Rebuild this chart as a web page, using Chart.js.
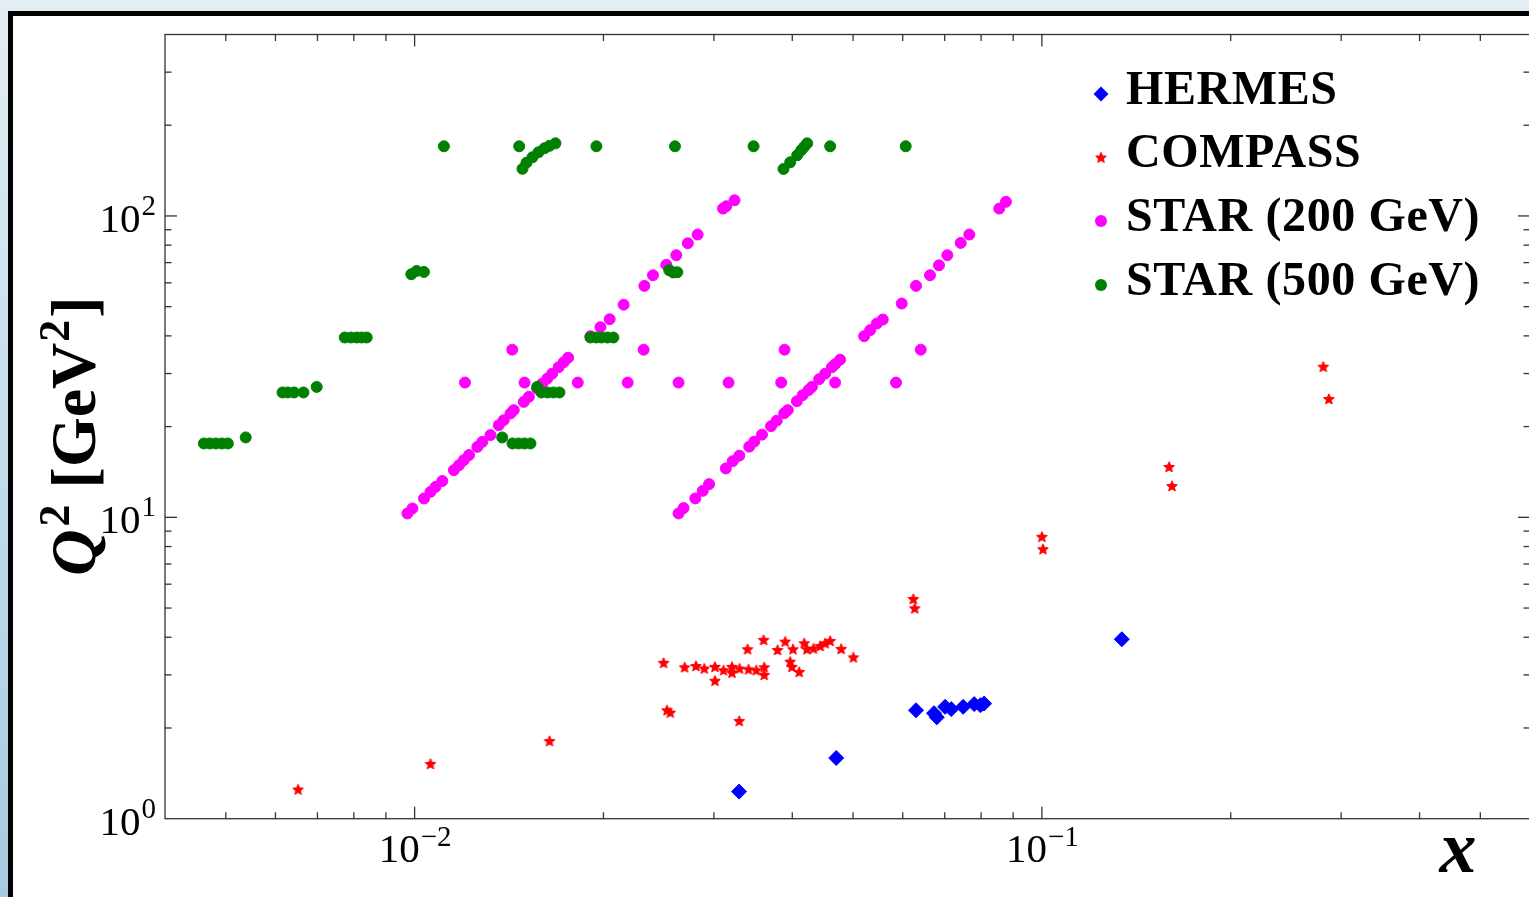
<!DOCTYPE html>
<html lang="en">
  <head>
    <meta charset="UTF-8" />
    <title>Kinematic coverage: x vs Q2</title>
    <style>
      html,
      body {
        margin: 0;
        padding: 0;
        width: 1529px;
        height: 897px;
        overflow: hidden;
      }
      body {
        position: relative;
        background: linear-gradient(180deg, #e3edf4 0%, #cde1ed 35%, #a6cae0 100%);
      }
      #frame {
        position: absolute;
        left: 8px;
        top: 11px;
        width: 1600px;
        height: 1000px;
        background: #fff;
        border-left: 5px solid #000;
        border-top: 5px solid #000;
      }
      #chart {
        position: absolute;
        left: 0;
        top: 0;
      }
    </style>
  </head>
  <body>
    <div id="frame"></div>
    <canvas id="chart" width="1560" height="897"></canvas>

    <script src="https://cdn.jsdelivr.net/npm/chart.js"></script>
    <script>
      // series names (legend order)
      const seriesNames = ["HERMES", "COMPASS", "STAR (200 GeV)", "STAR (500 GeV)"]

      // tick labels: 10^exp
      const xTickValues = [0.01, 0.1]
      const xTickExps = ["\u22122", "\u22121"]
      const yTickValues = [1, 10, 100]
      const yTickExps = ["0", "1", "2"]

      // HERMES
      const hermesX = [0.0329, 0.047, 0.063, 0.0673, 0.068, 0.0701, 0.0717, 0.0749, 0.078, 0.0798, 0.0809, 0.1341]
      const hermesQ2 = [1.23, 1.59, 2.29, 2.24, 2.17, 2.35, 2.31, 2.35, 2.4, 2.38, 2.41, 3.94]

      // COMPASS
      const compassX = [
        0.00652, 0.0106, 0.01641, 0.02494, 0.02526, 0.02556, 0.02694, 0.02809, 0.02896, 0.03012,
        0.03012, 0.03108, 0.03206, 0.03206, 0.03296, 0.03293, 0.03395, 0.03407, 0.03505, 0.036,
        0.03609, 0.03609, 0.03789, 0.03898, 0.0401, 0.0397, 0.03995, 0.04103, 0.04179, 0.04221,
        0.04324, 0.04432, 0.04513, 0.04597, 0.04786, 0.05006, 0.06238, 0.0627, 0.1, 0.1004,
        0.1595, 0.1612, 0.2809, 0.2867,
      ]
      const compassQ2 = [
        1.25, 1.52, 1.81, 3.29, 2.29, 2.25, 3.18, 3.21, 3.15, 3.19,
        2.87, 3.11, 3.19, 3.05, 3.15, 2.11, 3.65, 3.13, 3.11, 3.92,
        3.18, 3.0, 3.63, 3.87, 3.65, 3.32, 3.19, 3.07, 3.82, 3.65,
        3.67, 3.74, 3.82, 3.89, 3.66, 3.43, 5.36, 4.99, 8.62, 7.84,
        14.7, 12.7, 31.6, 24.7,
      ]

      // STAR 200 GeV
      const star200X = [
        0.00974, 0.00992, 0.01035, 0.0106, 0.0108, 0.01107, 0.01155, 0.01177, 0.01198, 0.01221,
        0.01259, 0.01282, 0.01321, 0.01362, 0.01387, 0.01422, 0.01439, 0.01493, 0.01521, 0.01568,
        0.01597, 0.01627, 0.01657, 0.01697, 0.01729, 0.01757, 0.01907, 0.01978, 0.02046, 0.02154,
        0.02324, 0.02399, 0.02519, 0.02613, 0.02726, 0.02826, 0.03102, 0.03139, 0.03236,
        0.02635, 0.02684, 0.02802, 0.0288, 0.02947, 0.03134, 0.03215, 0.03293, 0.03416, 0.03479,
        0.03579, 0.037, 0.03778, 0.03884, 0.03934, 0.04069, 0.04156, 0.04245, 0.04299, 0.04415,
        0.04513, 0.04626, 0.04682, 0.04768, 0.05207, 0.05323, 0.05455, 0.05576, 0.05978, 0.063,
        0.06632, 0.06854, 0.07067, 0.07423, 0.07661, 0.08551, 0.08763,
        0.01203, 0.01497, 0.0182, 0.02186, 0.02635, 0.03166, 0.03841, 0.04682, 0.05854,
        0.01431, 0.02318, 0.03888, 0.0641,
      ]
      const star200Q2 = [
        10.3, 10.7, 11.55, 12.15, 12.62, 13.2, 14.34, 14.9, 15.48, 16.09,
        17.13, 17.8, 18.74, 20.22, 21.01, 22.11, 22.68, 24.16, 25.1, 26.72,
        27.76, 28.84, 29.96, 31.49, 32.72, 33.86, 39.91, 42.74, 45.43, 50.76,
        58.61, 63.58, 68.89, 74.07, 81.19, 86.77, 105.8, 107.7, 112.7,
        10.3, 10.73, 11.55, 12.24, 12.89, 14.53, 15.36, 16.02, 17.16, 17.83,
        18.81, 20.07, 20.93, 22.16, 22.68, 24.29, 25.43, 26.42, 27.09, 28.73,
        29.96, 31.49, 32.22, 33.35, 39.91, 41.77, 43.97, 45.33, 51.22, 58.61,
        63.58, 68.62, 74.07, 81.38, 86.77, 105.8, 111.4,
        28.0, 28.0, 28.0, 28.0, 28.0, 28.0, 28.0, 28.0, 28.0,
        36.0, 36.0, 36.0, 36.0,
      ]

      // STAR 500 GeV
      const star500X = [
        0.004613, 0.004716, 0.004821, 0.004928, 0.005038, 0.005379,
        0.006157, 0.006278, 0.006424, 0.006649, 0.006981,
        0.007737, 0.007911, 0.008085, 0.008234, 0.008388,
        0.00988, 0.010073, 0.010347,
        0.011135, 0.014679, 0.01949, 0.026006, 0.0347, 0.045967, 0.060659,
        0.014858, 0.015078, 0.015413, 0.015756, 0.016107, 0.016405, 0.016769,
        0.038737, 0.039699, 0.04073, 0.041332, 0.04179, 0.042252,
        0.025469, 0.025845, 0.026227,
        0.019066, 0.01949, 0.01985, 0.020291, 0.020743,
        0.015681, 0.015929, 0.016284, 0.016645, 0.017017,
        0.013793, 0.014324, 0.014643, 0.014968, 0.0153,
      ]
      const star500Q2 = [
        17.58, 17.58, 17.58, 17.58, 17.58, 18.41,
        25.96, 25.96, 25.96, 25.96, 27.09,
        39.51, 39.51, 39.51, 39.51, 39.51,
        64.06, 65.69, 65.19,
        170.3, 170.3, 170.3, 170.3, 170.3, 170.3, 170.3,
        143.4, 150.3, 156.6, 162.7, 167.7, 170.9, 174.2,
        143.2, 150.7, 159.0, 165.2, 169.6, 174.2,
        66.04, 64.94, 65.04,
        39.51, 39.51, 39.51, 39.51, 39.51,
        27.09, 25.96, 25.96, 25.96, 25.96,
        18.41, 17.58, 17.58, 17.58, 17.58,
      ]

      const toPoints = (xs, ys) => xs.map((v, i) => ({ x: v, y: ys[i] }))

      // filled five-point star marker
      function makeStar(color) {
        const c = document.createElement("canvas")
        c.width = 16
        c.height = 16
        const g = c.getContext("2d")
        const R = 5.6
        const r = R * 0.45
        g.beginPath()
        for (let i = 0; i < 10; i++) {
          const a = -Math.PI / 2 + (i * Math.PI) / 5
          const rad = i % 2 === 0 ? R : r
          g.lineTo(8 + rad * Math.cos(a), 8.4 + rad * Math.sin(a))
        }
        g.closePath()
        g.fillStyle = color
        g.strokeStyle = color
        g.lineWidth = 1
        g.fill()
        g.stroke()
        return c
      }
      const starMarker = makeStar("#ff0000")

      const colors = ["#0000ff", "#ff0000", "#ff00ff", "#008000"]

      const serif = '"Liberation Serif", "DejaVu Serif", serif'

      const axesPlugin = {
        id: "axesPlugin",
        afterDraw(chart) {
          const { ctx, chartArea: a } = chart
          const xs = chart.scales.x
          const ys = chart.scales.y
          ctx.save()

          // frame and inward ticks on all four sides
          ctx.strokeStyle = "#333"
          ctx.lineWidth = 1.3
          const line = (x1, y1, x2, y2) => {
            ctx.beginPath()
            ctx.moveTo(x1, y1)
            ctx.lineTo(x2, y2)
            ctx.stroke()
          }
          for (let e = -3; e <= 0; e++) {
            for (let m = 1; m <= 9; m++) {
              const v = m * Math.pow(10, e)
              if (v <= xs.min * 1.0001 || v >= xs.max * 0.9999) continue
              const len = m === 1 ? 12 : 6.5
              const px = xs.getPixelForValue(v)
              line(px, a.bottom, px, a.bottom - len)
              line(px, a.top, px, a.top + len)
            }
          }
          for (let e = 0; e <= 2; e++) {
            for (let m = 1; m <= 9; m++) {
              const v = m * Math.pow(10, e)
              if (v <= ys.min * 1.0001 || v >= ys.max * 0.9999) continue
              const len = m === 1 ? 12 : 6.5
              const py = ys.getPixelForValue(v)
              line(a.left, py, a.left + len, py)
              line(a.right, py, a.right - len, py)
            }
          }
          ctx.strokeRect(a.left, a.top, a.right - a.left, a.bottom - a.top)

          // tick labels
          ctx.fillStyle = "#000"
          ctx.textBaseline = "alphabetic"
          ctx.textAlign = "left"
          const baseFont = "41px " + serif
          const supFont = "29px " + serif
          yTickValues.forEach((v, i) => {
            const py = ys.getPixelForValue(v)
            ctx.font = baseFont
            const wb = ctx.measureText("10").width
            ctx.font = supFont
            const ws = ctx.measureText(yTickExps[i]).width
            const x0 = a.left - 10 - wb - ws
            ctx.font = baseFont
            ctx.fillText("10", x0, py + 16)
            ctx.font = supFont
            ctx.fillText(yTickExps[i], x0 + wb + 1, py - 1)
          })
          xTickValues.forEach((v, i) => {
            const px = xs.getPixelForValue(v)
            ctx.font = baseFont
            const wb = ctx.measureText("10").width
            ctx.font = supFont
            const ws = ctx.measureText(xTickExps[i]).width
            const x0 = px - (wb + ws) / 2
            ctx.font = baseFont
            ctx.fillText("10", x0, a.bottom + 43)
            ctx.font = supFont
            ctx.fillText(xTickExps[i], x0 + wb + 1, a.bottom + 27)
          })

          // x axis title
          ctx.font = "italic bold 74px " + serif
          ctx.textAlign = "center"
          ctx.fillText("x", 1458, 872)

          // y axis title, rotated
          const pieces = [
            { t: "Q", f: "italic bold 64px " + serif, up: 0, gap: 3 },
            { t: "2", f: "bold 44px " + serif, up: 26, gap: 0 },
            { t: " [GeV", f: "bold 64px " + serif, up: 0, gap: 1 },
            { t: "2", f: "bold 44px " + serif, up: 26, gap: 2 },
            { t: "]", f: "bold 64px " + serif, up: 0, gap: 0 },
          ]
          ctx.textAlign = "left"
          let total = 0
          pieces.forEach((p) => {
            ctx.font = p.f
            p.w = ctx.measureText(p.t).width
            total += p.w + p.gap
          })
          ctx.save()
          ctx.translate(95, 436)
          ctx.rotate(-Math.PI / 2)
          let cx = -total / 2
          pieces.forEach((p) => {
            ctx.font = p.f
            ctx.fillText(p.t, cx, -p.up)
            cx += p.w + p.gap
          })
          ctx.restore()

          // legend
          const baselines = [103.5, 167, 230.5, 294.5]
          ctx.font = "bold 48px " + serif
          ctx.letterSpacing = "0.6px"
          ctx.textAlign = "left"
          seriesNames.forEach((name, i) => {
            const my = baselines[i] - 9.5
            const mx = 1101
            ctx.fillStyle = colors[i]
            if (i === 0) {
              ctx.beginPath()
              ctx.moveTo(mx, my - 7.5)
              ctx.lineTo(mx + 7.5, my)
              ctx.lineTo(mx, my + 7.5)
              ctx.lineTo(mx - 7.5, my)
              ctx.closePath()
              ctx.fill()
            } else if (i === 1) {
              ctx.drawImage(starMarker, mx - 8, my - 8)
            } else {
              ctx.beginPath()
              ctx.arc(mx, my, 6, 0, Math.PI * 2)
              ctx.fill()
            }
            ctx.fillStyle = "#000"
            ctx.fillText(name, 1126, baselines[i])
          })

          ctx.restore()
        },
      }

      new Chart(document.getElementById("chart"), {
        type: "scatter",
        data: {
          datasets: [
            {
              label: seriesNames[0],
              data: toPoints(hermesX, hermesQ2),
              pointStyle: "rectRot",
              pointRadius: 7.5,
              pointBorderWidth: 1,
              backgroundColor: colors[0],
              borderColor: colors[0],
              order: 0,
            },
            {
              label: seriesNames[1],
              data: toPoints(compassX, compassQ2),
              pointStyle: starMarker,
              pointRadius: 6,
              backgroundColor: colors[1],
              borderColor: colors[1],
              order: 1,
            },
            {
              label: seriesNames[2],
              data: toPoints(star200X, star200Q2),
              pointStyle: "circle",
              pointRadius: 5.5,
              pointBorderWidth: 1,
              backgroundColor: colors[2],
              borderColor: colors[2],
              order: 3,
            },
            {
              label: seriesNames[3],
              data: toPoints(star500X, star500Q2),
              pointStyle: "circle",
              pointRadius: 5.5,
              pointBorderWidth: 1,
              backgroundColor: colors[3],
              borderColor: colors[3],
              order: 2,
            },
          ],
        },
        options: {
          responsive: false,
          animation: false,
          devicePixelRatio: 1,
          events: [],
          layout: { padding: { left: 165, top: 34.5, right: 30, bottom: 78.3 } },
          scales: {
            x: { type: "logarithmic", min: 0.004, max: 0.6, display: false },
            y: { type: "logarithmic", min: 1, max: 400, display: false },
          },
          plugins: {
            legend: { display: false },
            tooltip: { enabled: false },
          },
        },
        plugins: [axesPlugin],
      })
    </script>
  </body>
</html>
